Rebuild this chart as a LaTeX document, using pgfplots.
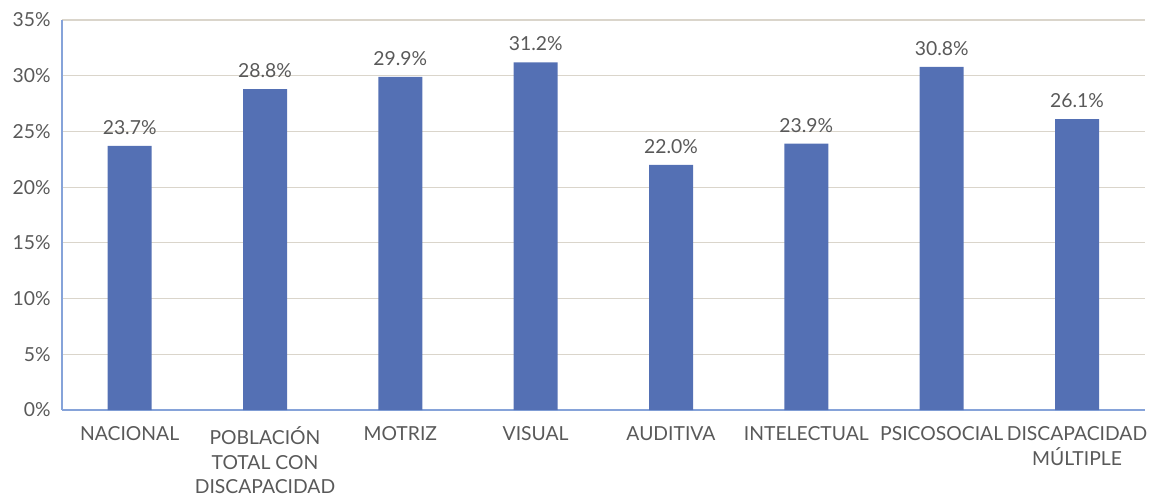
\documentclass[border=0pt]{standalone}
\usepackage{fontspec}
\setmainfont{Lato}
\usepackage{pgfplots}
\pgfplotsset{compat=1.18}
\usetikzlibrary{calc}
\definecolor{barblue}{HTML}{5470B4}
\definecolor{axblue}{HTML}{86A3D9}
\definecolor{gridbeige}{HTML}{DAD5CB}
\definecolor{txtgray}{HTML}{595959}

\begin{document}
\begin{tikzpicture}[x=1pt,y=1pt]
  \begin{axis}[
    scale only axis,
    width=812pt, height=292.5pt,
    xmin=-0.5, xmax=7.5,
    ymin=0, ymax=35,
    ytick={0,5,...,35},
    yticklabel={\pgfmathprintnumber{\tick}\%},
    xtick={0,...,7},
    xticklabels={NACIONAL, {POBLACIÓN\\TOTAL CON\\DISCAPACIDAD}, MOTRIZ, VISUAL,
                 AUDITIVA, INTELECTUAL, PSICOSOCIAL, {DISCAPACIDAD\\MÚLTIPLE}},
    xticklabel style={align=center, anchor=north, yshift=-9pt},
    yticklabel style={xshift=-5pt},
    /pgf/number format/assume math mode=true,
    tick label style={font=\fontsize{14.5}{18.4}\selectfont, text=txtgray},
    major tick length=0pt,
    axis x line*=bottom, axis y line*=left,
    axis line style={axblue, line width=1.2pt, -},
    ymajorgrids, grid style={gridbeige, line width=0.8pt},
    nodes near coords={\pgfmathprintnumber[fixed,fixed zerofill,precision=1]{\pgfplotspointmeta}\%},
    every node near coord/.append style={font=\fontsize{14.5}{17}\selectfont, text=txtgray, yshift=5pt},
    clip=false,
  ]
    \addplot[ybar, bar width=33pt, fill=barblue, draw=none]
      coordinates {(0,23.7) (1,28.8) (2,29.9) (3,31.2) (4,22.0) (5,23.9) (6,30.8) (7,26.1)};
    \coordinate (o) at (rel axis cs:0,0);
  \end{axis}
  \useasboundingbox ($(o)+(-46.5pt,-67.5pt)$) rectangle ($(o)+(825pt,307.5pt)$);
\end{tikzpicture}
\end{document}
